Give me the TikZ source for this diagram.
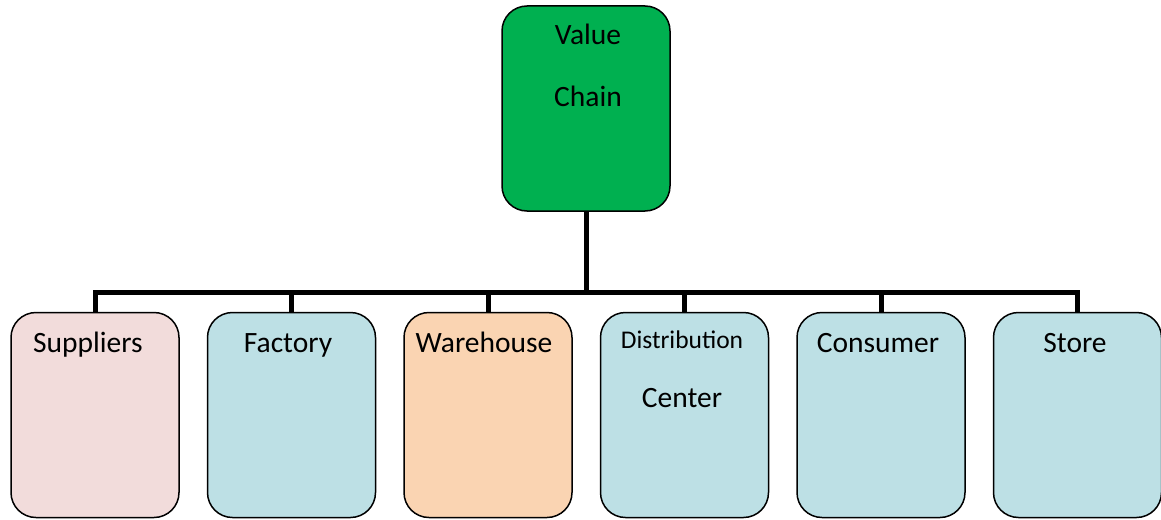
\documentclass[tikz,border=0pt]{standalone}
\usepackage{fontspec}
\setmainfont{Carlito}
\definecolor{vcgreen}{RGB}{0,176,80}
\definecolor{suppink}{RGB}{242,220,219}
\definecolor{cellblue}{RGB}{189,224,229}
\definecolor{whorange}{RGB}{250,212,178}
\tikzset{
  box/.style={draw=black, line width=1.5, rounded corners=25,
    minimum width=168, minimum height=205, inner sep=0, outer sep=0},
  lbl/.style={anchor=base, inner sep=0, font=\fontsize{29.5}{34}\selectfont},
  lblsmall/.style={anchor=base, inner sep=0, font=\fontsize{25.5}{30}\selectfont},
  wire/.style={line width=5, line join=miter}
}
\begin{document}
\begin{tikzpicture}[x=1pt, y=-1pt]
  \useasboundingbox (0,0) rectangle (1161,519);
  % root box
  \node[box, fill=vcgreen] (vc) at (586,108.5) {};
  \node[lbl] (vc-t1) at (588,45) {Value};
  \node[lbl] (vc-t2) at (588,106) {Chain};
  % child boxes
  \node[box, fill=suppink]  (sup)  at (95,415) {};
  \node[box, fill=cellblue] (fac)  at (291.5,415) {};
  \node[box, fill=whorange] (wh)   at (488,415) {};
  \node[box, fill=cellblue] (dc)   at (684.5,415) {};
  \node[box, fill=cellblue] (con)  at (881,415) {};
  \node[box, fill=cellblue] (sto)  at (1077.5,415) {};
  % child labels
  \node[lbl] (sup-t) at (88,352) {Suppliers};
  \node[lbl] (fac-t) at (288,352) {Factory};
  \node[lbl] (wh-t)  at (484,352) {Warehouse};
  \node[lblsmall] (dc-t1) at (682,348) {Distribution};
  \node[lbl] (dc-t2) at (682,407) {Center};
  \node[lbl] (con-t) at (878,352) {Consumer};
  \node[lbl] (sto-t) at (1075,352) {Store};
  % connectors
  \coordinate (bus) at (586,292);
  \draw[wire] (vc.south) -- (bus);
  \foreach \n in {sup,fac,wh,dc,con,sto}
    \draw[wire] (\n.north) -- (\n.north |- bus) -- (bus);
\end{tikzpicture}
\end{document}
